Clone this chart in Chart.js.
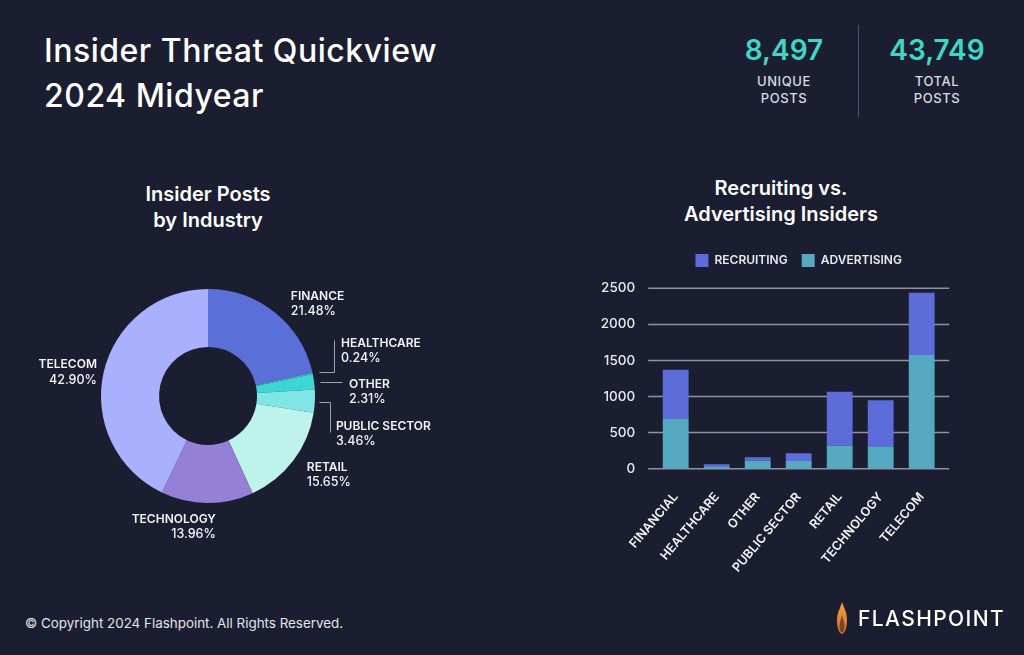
<!DOCTYPE html>
<html>
<head>
<meta charset="utf-8">
<script src="https://cdn.jsdelivr.net/npm/chart.js@4.4.1/dist/chart.umd.min.js"></script>
<style>
  html, body { margin:0; padding:0; }
  body { width:1024px; height:655px; background:#1b1e30; position:relative; overflow:hidden; font-family:Inter, "Noto Sans", sans-serif; color:#fff; }
  .abs { position:absolute; }
  #title { left:44px; top:28px; font-size:32px; font-weight:500; line-height:45px; color:#fff; letter-spacing:0.5px; }
  .stat { width:140px; text-align:center; }
  .num { font-size:28px; font-weight:600; color:#3ed6c6; line-height:34px; }
  .lbl { font-size:13px; font-weight:500; color:#d9dbe2; line-height:17px; letter-spacing:0.6px; margin-top:6px; }
  #divider { left:858px; top:25px; width:1px; height:92px; background:#4e5368; }
  .ctitle { text-align:center; font-size:20px; font-weight:600; line-height:26px; color:#fff; }
  #footer { left:25px; top:615px; font-size:13.4px; color:#e3e4ea; }
  #brand { left:858px; top:605px; font-size:21px; font-weight:500; letter-spacing:1.4px; color:#fff; line-height:28px; }
</style>
</head>
<body>
<div id="title" class="abs">Insider Threat Quickview<br>2024 Midyear</div>
<div class="abs stat" style="left:714px;top:33px;"><div class="num">8,497</div><div class="lbl">UNIQUE<br>POSTS</div></div>
<div id="divider" class="abs"></div>
<div class="abs stat" style="left:867px;top:33px;"><div class="num">43,749</div><div class="lbl">TOTAL<br>POSTS</div></div>

<div class="abs ctitle" style="left:58px;top:181px;width:300px;">Insider Posts<br>by Industry</div>
<div class="abs ctitle" style="left:631px;top:175px;width:300px;">Recruiting vs.<br>Advertising Insiders</div>

<div class="abs" style="left:0;top:250px;width:460px;height:310px;"><canvas id="pie" width="460" height="310"></canvas></div>
<div class="abs" style="left:590px;top:240px;width:400px;height:390px;"><canvas id="bar" width="400" height="390"></canvas></div>

<div id="footer" class="abs">© Copyright 2024 Flashpoint. All Rights Reserved.</div>
<svg class="abs" style="left:835px;top:601px;" width="14" height="34" viewBox="0 0 14 34">
  <defs><linearGradient id="fg" x1="0" y1="0" x2="0" y2="1"><stop offset="0" stop-color="#f3a04a"/><stop offset="1" stop-color="#d96a1e"/></linearGradient></defs>
  <path d="M7 1 C9 7 12 11 12 19 C12 27 10 32 7 33 C4 32 2 27 2 19 C2 12 5 8 7 1 Z" fill="url(#fg)"/>
  <path d="M7 14 C8 18 9.5 21 9.5 25 C9.5 29 8.5 31 7 31.5 C5.5 31 4.5 29 4.5 25 C4.5 21 6 18 7 14 Z" fill="#1b1e30" opacity="0.55"/>
</svg>
<div id="brand" class="abs">FLASHPOINT</div>

<script>
// ---------- data ----------
const industryLabels = ["FINANCE", "HEALTHCARE", "OTHER", "PUBLIC SECTOR", "RETAIL", "TECHNOLOGY", "TELECOM"];
const industryShares = [21.48, 0.24, 2.31, 3.46, 15.65, 13.96, 42.90];
const industryColors = ["#5b6fd9", "#4fb3cf", "#3dd6d3", "#80e6e3", "#bdf3ea", "#9580d8", "#a9b0fe"];

const barCategories = ["FINANCIAL", "HEALTHCARE", "OTHER", "PUBLIC SECTOR", "RETAIL", "TECHNOLOGY", "TELECOM"];
const advertisingValues = [690, 25, 110, 105, 320, 300, 1575];
const recruitingValues = [680, 35, 50, 110, 745, 650, 865];
const yTicks = [0, 500, 1000, 1500, 2000, 2500];

const FONT = "Inter, 'Noto Sans', sans-serif";

// ---------- doughnut labels plugin ----------
const labelLayout = [
  {align:'left',  dx:16,   dy:-16.5, leader:null},
  {align:'left',  dx:28.4, dy:-30.4, leader:[[6,-1.7],[21.4,-1.7],[21.4,-33.4]]},
  {align:'left',  dx:35,   dy:2.2,   leader:[[6,0.2],[28,0.2]]},
  {align:'left',  dx:21,   dy:25,    leader:[[4,1],[15,1],[15,31]]},
  {align:'left',  dx:13.5, dy:6.6,   leader:null},
  {align:'right', dx:8.7,  dy:16,    leader:null},
  {align:'right', dx:-6.7, dy:-8,    leader:null}
];
const pieLabels = {
  id:'pieLabels',
  afterDatasetsDraw(chart) {
    const ctx = chart.ctx;
    const meta = chart.getDatasetMeta(0);
    ctx.save();
    meta.data.forEach((arc, i) => {
      const p = arc.getProps(['x','y','startAngle','endAngle','outerRadius'], true);
      const mid = (p.startAngle + p.endAngle) / 2;
      const ax = p.x + Math.cos(mid) * p.outerRadius;
      const ay = p.y + Math.sin(mid) * p.outerRadius;
      const L = labelLayout[i];
      if (L.leader) {
        ctx.strokeStyle = '#9ea3b3';
        ctx.lineWidth = 1;
        ctx.beginPath();
        L.leader.forEach((pt, k) => {
          const X = Math.round(ax + pt[0]) + 0.5, Y = Math.round(ay + pt[1]) + 0.5;
          if (k === 0) ctx.moveTo(X, Y); else ctx.lineTo(X, Y);
        });
        ctx.stroke();
      }
      ctx.fillStyle = '#f2f3f7';
      ctx.font = '600 12px ' + FONT;
      ctx.textAlign = L.align;
      ctx.textBaseline = 'middle';
      const tx = ax + L.dx, ty = ay + L.dy;
      ctx.fillText(chart.data.labels[i], tx, ty);
      ctx.font = '500 12.5px ' + FONT;
      ctx.fillText(chart.data.datasets[0].data[i].toFixed(2) + '%', tx, ty + 15.5);
    });
    ctx.restore();
  }
};

new Chart(document.getElementById('pie'), {
  type:'doughnut',
  data:{ labels: industryLabels, datasets:[{ data: industryShares, backgroundColor: industryColors, borderWidth:0, offset:0, hoverOffset:0 }] },
  options:{
    responsive:false, animation:false, events:[],
    cutout:'45.8%',
    layout:{ padding:{ left:101, right:145, top:39, bottom:57 } },
    plugins:{ legend:{display:false}, tooltip:{enabled:false} }
  },
  plugins:[pieLabels]
});

// ---------- bar chart ----------
const gridPlugin = {
  id:'extGrid',
  beforeDatasetsDraw(chart) {
    const {ctx, chartArea} = chart;
    const y = chart.scales.y;
    ctx.save();
    ctx.strokeStyle = '#8e92a3';
    ctx.lineWidth = 1.5;
    y.ticks.forEach(t => {
      const py = y.getPixelForValue(t.value);
      ctx.beginPath();
      ctx.moveTo(chartArea.left - 7, py);
      ctx.lineTo(chartArea.right + 7, py);
      ctx.stroke();
    });
    ctx.restore();
  }
};

new Chart(document.getElementById('bar'), {
  type:'bar',
  data:{
    labels: barCategories,
    datasets:[
      { label:'ADVERTISING', data: advertisingValues, backgroundColor:'#55aac2', borderWidth:0 },
      { label:'RECRUITING', data: recruitingValues, backgroundColor:'#5c6cd9', borderWidth:0 }
    ]
  },
  options:{
    responsive:false, animation:false, events:[],
    layout:{ padding:{ left:0, right:47.8, top:0, bottom:0 } },
    datasets:{ bar:{ categoryPercentage:1, barPercentage:0.63 } },
    scales:{
      x:{
        stacked:true,
        grid:{ display:false }, border:{ display:false },
        ticks:{ color:'#f2f3f7', font:{ family:FONT, size:12.5, weight:'600' }, minRotation:50, maxRotation:50, padding:13, autoSkip:false },
        afterFit(s){ s.height = 161.3; }
      },
      y:{
        stacked:true, min:0, max:2500,
        grid:{ display:false }, border:{ display:false },
        afterBuildTicks(s){ s.ticks = yTicks.map(v => ({value:v})); },
        ticks:{ color:'#e8e9ef', font:{ family:FONT, size:13.5, weight:'500' }, padding:12, callback:(v) => String(v) },
        afterFit(s){ s.width = 65.2; }
      }
    },
    plugins:{
      tooltip:{ enabled:false },
      legend:{
        display:true, position:'top', reverse:true, fullSize:false,
        labels:{ color:'#e8e9ef', boxWidth:13, boxHeight:13, padding:14, font:{ family:FONT, size:12, weight:'600' } }
      },
      subtitle:{ display:true, text:'', weight:500, font:{ size:1, lineHeight:1 }, padding:{ top:10.3, bottom:0 } }
    }
  },
  plugins:[gridPlugin]
});
</script>
</body>
</html>
